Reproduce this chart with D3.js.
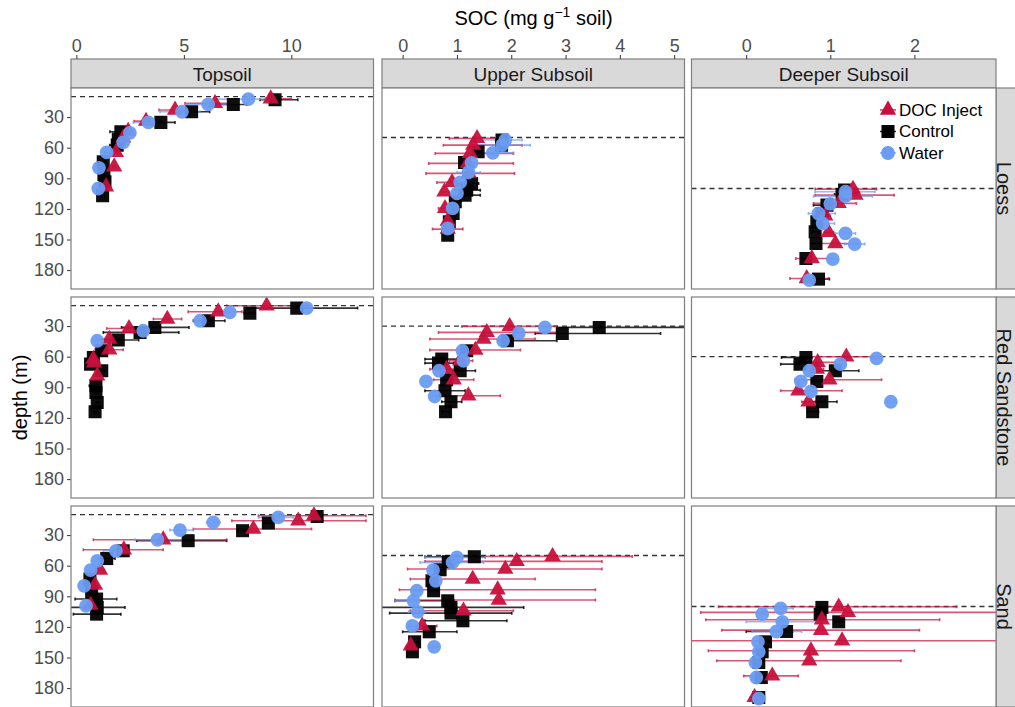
<!DOCTYPE html>
<html>
<head>
<meta charset="utf-8">
<script src="https://cdn.jsdelivr.net/npm/d3@7"></script>
<style>
  html, body { margin: 0; padding: 0; background: #fff; }
  svg { display: block; font-family: "Liberation Sans", Arial, sans-serif; }
</style>
</head>
<body>
<svg id="chart" width="1015" height="707"></svg>
<script>
// ---- Facets, treatments and axis ticks ----
const parentMaterials = ["Loess", "Red Sandstone", "Sand"];
const horizons = ["Topsoil", "Upper Subsoil", "Deeper Subsoil"];
const treatments = ["DOC Inject", "Control", "Water"];
const socTicksTopsoil = [0, 5, 10];
const socTicksUpper = [0, 1, 2, 3, 4, 5];
const socTicksDeeper = [0, 1, 2];
const depthTicks = [30, 60, 90, 120, 150, 180];
// injection depth per parent material (rows) and horizon (columns)
const injectionDepthLoess = [10, 50, 100];
const injectionDepthRedSandstone = [10, 30, 60];
const injectionDepthSand = [10, 50, 100];

// ---- Profiles: [depth (m), SOC, lower, upper] ----
// Loess
const loessTopDOC = [[12,9.04,8.8,10.0],[16.6,6.45,5.05,7.1],[23,4.59,3.84,5.36],[34,3.24,2.68,3.89],[43.7,2.41,2.3,2.55],[50.3,2.18,2.05,2.3],[64.6,1.84,1.75,1.95],[78.7,1.76,1.7,1.85],[98.3,1.38,1.3,1.45]];
const loessTopControl = [[13,9.24,8.54,10.3],[17.6,7.3,6.5,7.92],[24.8,5.36,4.66,6.2],[35.2,3.93,3.58,4.59],[44.4,2.07,1.56,2.34],[51.6,1.95,1.7,2.2],[57.5,1.9,1.55,2.0],[73.8,1.25,1.15,1.35],[86.2,1.28,1.2,1.35],[93.4,1.33,1.25,1.4],[107,1.22,1.15,1.3]];
const loessTopWater = [[12.4,8.0,6.5,9.2],[17.6,6.13,5.13,7.14],[24.8,4.91,3.89,5.75],[35.2,3.35,2.65,3.89],[45.4,2.49,2.4,2.6],[54.8,2.18,2.1,2.3],[64.6,1.41,1.35,1.5],[79.7,1.05,1.0,1.1],[100,1.02,0.95,1.1]];
const loessUpperDOC = [[50.9,1.37,0.86,1.92],[57.5,1.3,0.75,2.2],[65.6,1.24,0.6,2.04],[75.4,1.2,0.48,2.04],[85.2,1.22,0.43,2.06],[94,0.91,0.63,1.03],[103.2,0.77,0.7,0.85],[119.5,0.78,0.66,1.03],[132,0.83,0.8,0.86],[139.8,0.83,0.55,1.11]];
const loessUpperControl = [[52.5,1.83,1.75,1.9],[57.5,1.82,1.75,1.9],[64,1.39,1.3,1.45],[74.5,1.14,1.05,1.2],[95,1.27,1.03,1.4],[101.6,1.18,0.97,1.43],[106.5,1.15,1.05,1.43],[113,0.97,0.9,1.05],[124.5,0.93,0.85,1.0],[132.6,0.86,0.8,0.92],[145.7,0.83,0.78,0.9]];
const loessUpperWater = [[52.5,1.89,1.33,2.2],[57.5,1.83,1.33,2.35],[65,1.66,1.27,2.04],[74.8,1.27,1.2,1.35],[84.3,1.21,1.0,1.43],[94,1.06,1.0,1.12],[104.8,1.0,0.93,1.07],[119.5,0.92,0.85,1.0],[139.2,0.83,0.78,0.9]];
const loessDeeperDOC = [[100.6,1.27,0.82,1.55],[106.5,1.3,0.82,1.76],[114.6,1.1,0.8,1.31],[126.7,0.94,0.88,1.0],[143,0.98,0.93,1.04],[153.9,1.06,0.86,1.33],[168.6,0.78,0.59,1.02],[188.2,0.72,0.52,0.98]];
const loessDeeperControl = [[101.6,1.17,1.1,1.25],[105.8,1.14,1.05,1.22],[116.3,0.96,0.8,1.08],[124.5,0.9,0.85,0.95],[132.6,0.84,0.8,0.9],[142.4,0.82,0.78,0.86],[153.9,0.83,0.78,0.88],[168.6,0.71,0.66,0.76],[188.8,0.86,0.7,0.99]];
const loessDeeperWater = [[103.2,1.18,0.82,1.53],[107.5,1.18,0.8,1.5],[115,1.0,0.95,1.05],[124.5,0.86,0.74,1.06],[134.3,0.91,0.85,1.05],[144,1.18,1.06,1.3],[154.5,1.29,1.17,1.41],[169.2,1.03,0.98,1.08],[189.8,0.75,0.7,0.8]];
// Red Sandstone
const redTopDOC = [[10.1,8.85,7.0,10.7],[15.9,6.6,5.2,7.7],[23.1,4.23,3.58,4.9],[32.3,2.45,1.41,3.42],[42.8,1.53,0.95,2.0],[53.2,1.53,0.87,2.18],[62.4,0.79,0.7,0.9],[66,0.82,0.7,0.95],[78.7,0.97,0.8,1.15]];
const redTopControl = [[12.4,10.25,7.92,13.08],[17.3,8.07,7.8,8.3],[24.8,6.14,5.44,6.91],[31.3,3.65,2.1,5.24],[36.2,2.96,1.25,4.77],[43.7,1.95,1.25,2.9],[54.2,1.18,1.0,1.35],[60.7,0.79,0.7,0.9],[67.3,0.66,0.6,0.75],[73.8,1.18,1.05,1.3],[88.5,0.91,0.6,1.0],[95,0.91,0.85,1.0],[104.8,0.97,0.9,1.05],[114,0.87,0.8,0.95]];
const redTopWater = [[12.4,10.71,10.5,10.9],[16.6,7.14,7.0,7.3],[24.8,5.75,5.6,5.9],[34.6,3.11,2.9,3.3],[44.4,0.97,0.9,1.05]];
const redUpperDOC = [[30.3,1.97,1.09,2.84],[36.2,1.55,0.66,2.84],[42.7,1.49,0.5,2.44],[53.5,1.34,0.5,2.17],[64,1.06,0.86,1.29],[72.2,0.81,0.5,1.03],[82.6,0.94,0.57,1.31],[98.3,1.21,0.6,1.8]];
const redUpperControl = [[31.3,3.62,2.84,6.0],[37.3,2.94,2.44,4.75],[44.4,1.93,1.77,2.84],[54.2,1.18,1.1,1.25],[62.4,0.72,0.41,1.0],[66.3,0.66,0.41,0.94],[73.8,1.06,0.91,1.34],[82.6,0.81,0.75,0.9],[93.4,0.78,0.41,1.15],[104.2,0.89,0.72,1.09],[114,0.79,0.72,0.86]];
const redUpperWater = [[31.3,2.62,2.55,2.7],[36.9,2.14,2.05,2.2],[44.4,1.85,1.78,1.92],[54.2,1.1,1.05,1.15],[64,1.12,1.05,1.2],[73.8,0.67,0.6,0.75],[84.3,0.43,0.38,0.5],[99,0.59,0.52,0.65]];
const redDeeperDOC = [[60.1,1.19,0.72,1.59],[65.6,0.85,0.57,1.06],[72.1,0.84,0.76,0.92],[82.6,0.99,0.58,1.61],[93.4,0.62,0.41,1.14],[104.2,0.74,0.66,0.82]];
const redDeeperControl = [[60.7,0.71,0.42,0.78],[67.3,0.64,0.41,0.72],[73.8,1.06,0.86,1.34],[84.3,0.84,0.78,0.9],[104.2,0.9,0.7,1.08],[114,0.79,0.73,0.86]];
const redDeeperWater = [[61.7,1.55,1.5,1.6],[67.3,1.12,1.06,1.18],[73.8,0.75,0.69,0.81],[84.3,0.65,0.6,0.7],[94.1,0.77,0.71,0.83],[104.2,1.72,1.68,1.76]];
// Sand
const sandTopDOC = [[11,11.05,8.47,13.47],[16,10.32,7.23,13.47],[24.1,8.23,5.44,10.94],[34.6,4.04,0.79,6.99],[44.4,2.21,0.32,4.04],[64.3,1.1,0.9,1.3],[79,0.87,0.75,1.0],[98.6,0.66,0.55,0.8]];
const sandTopControl = [[11.7,11.2,11.0,11.4],[18.2,8.93,8.7,9.1],[25.7,7.73,7.5,7.9],[35.5,5.2,2.81,6.99],[45.4,2.18,2.0,2.35],[53,1.41,1.0,1.8],[73.1,0.63,0.55,0.7],[86.2,0.71,0.6,0.8],[92.7,0.94,-0.06,1.88],[100.9,0.97,-0.3,2.26],[107.5,0.94,-0.14,2.07]];
const sandTopWater = [[12.7,9.39,8.47,10.09],[17.6,6.37,6.06,6.68],[25.1,4.82,4.35,5.44],[34.6,3.77,2.73,5.13],[45.4,1.84,1.25,2.34],[55.2,0.97,0.9,1.05],[64.3,0.66,0.6,0.75],[79.7,0.36,0.3,0.45],[99.3,0.45,0.35,0.6]];
const sandUpperDOC = [[50.9,2.76,1.52,4.23],[55.8,2.1,0.41,3.67],[63.3,1.89,0.09,3.67],[73.1,1.29,0.14,2.44],[83.6,1.75,-0.06,3.55],[93.7,1.77,-0.14,3.55],[104.2,1.12,0.14,2.04],[119,0.36,0.11,0.63],[138.5,0.15,0.1,0.2]];
const sandUpperControl = [[51.2,1.32,0.41,1.52],[56.1,0.84,0.75,0.95],[64,0.69,0.6,0.78],[74.8,0.54,0.45,0.62],[84.6,0.57,0.5,0.65],[94.4,0.83,-0.14,0.95],[100.9,0.89,-0.4,2.23],[106.5,0.89,-0.24,2.01],[114,1.11,0.41,1.92],[124.8,0.49,-0.0,1.0],[134.6,0.22,0.15,0.3],[144.4,0.18,0.1,0.25]];
const sandUpperWater = [[51.9,1.0,0.41,1.52],[56.8,0.92,0.32,1.49],[64.3,0.56,0.5,0.62],[74.8,0.61,0.55,0.68],[84.6,0.26,0.2,0.32],[94.4,0.2,-0.14,0.3],[105.2,0.28,0.11,0.42],[119,0.18,0.12,0.24],[139.5,0.58,0.5,0.66]];
const sandDeeperDOC = [[100.3,1.1,-0.33,2.5],[105.8,1.21,-0.54,3.2],[113,0.9,-0.48,2.3],[123.2,0.89,-0.29,2.06],[133.6,1.14,-0.8,3.2],[143.4,0.77,-0.45,2.0],[153.2,0.75,-0.35,1.84],[168,0.31,-0.03,0.62],[189.1,0.1,0.05,0.15]];
const sandDeeperControl = [[100.9,0.9,0.85,0.95],[107.5,0.88,0.83,0.93],[115,1.1,1.05,1.15],[124.5,0.48,0.0,0.55],[134.6,0.23,0.18,0.28],[144.4,0.19,0.14,0.24],[154.9,0.15,0.1,0.2],[169.6,0.18,0.13,0.23],[189.2,0.15,0.1,0.2]];
const sandDeeperWater = [[101.9,0.41,0.15,0.56],[107.5,0.19,0.13,0.25],[115,0.43,-0.0,0.86],[124.5,0.36,0.07,0.66],[134.6,0.14,0.09,0.19],[144.4,0.15,0.1,0.2],[154.9,0.11,0.06,0.16],[169.6,0.12,0.07,0.17],[190.2,0.15,0.1,0.2]];

// ---- Assemble facets ----
const socTicks = [socTicksTopsoil, socTicksUpper, socTicksDeeper];
const socDomains = [[-0.25, 13.82], [-0.38, 5.19], [-0.65, 2.97]];
const depthDomain = [1.5, 198.5];
const injectionDepths = [injectionDepthLoess, injectionDepthRedSandstone, injectionDepthSand];
const profiles = [
  [[loessTopDOC, loessTopControl, loessTopWater], [loessUpperDOC, loessUpperControl, loessUpperWater], [loessDeeperDOC, loessDeeperControl, loessDeeperWater]],
  [[redTopDOC, redTopControl, redTopWater], [redUpperDOC, redUpperControl, redUpperWater], [redDeeperDOC, redDeeperControl, redDeeperWater]],
  [[sandTopDOC, sandTopControl, sandTopWater], [sandUpperDOC, sandUpperControl, sandUpperWater], [sandDeeperDOC, sandDeeperControl, sandDeeperWater]]
];

// ---- Layout ----
const colBounds = [[71, 373.5], [382, 684.5], [691.5, 996]];
const rowBounds = [[88, 289], [297, 498], [506, 707]];
const stripTop = 59, stripBottom = 88;
const colours = { "DOC Inject": "#C8103C", "Control": "#000000", "Water": "#6A9CF2" };
const symbols = { "DOC Inject": d3.symbolTriangle, "Control": d3.symbolSquare, "Water": d3.symbolCircle };
const symbolSizes = { "DOC Inject": 115, "Control": 170, "Water": 150 };
const drawOrder = [1, 0, 2];

const svg = d3.select("#chart");
const borderCol = "#7f7f7f";
const tickTextCol = "#4d4d4d";

// axis title on top
const title = svg.append("text")
  .attr("x", (colBounds[0][0] + colBounds[2][1]) / 2).attr("y", 25)
  .attr("text-anchor", "middle").attr("font-size", 20).attr("fill", "#000");
title.append("tspan").text("SOC (mg g");
title.append("tspan").attr("dy", -8).attr("font-size", 14).text("\u22121");
title.append("tspan").attr("dy", 8).text(" soil)");

// y axis title
svg.append("text")
  .attr("transform", `translate(27,${(rowBounds[0][0] + rowBounds[2][1]) / 2}) rotate(-90)`)
  .attr("text-anchor", "middle").attr("font-size", 20).attr("fill", "#000")
  .text("depth (m)");

const defs = svg.append("defs");

horizons.forEach((h, c) => {
  const [x0, x1] = colBounds[c];
  const x = d3.scaleLinear().domain(socDomains[c]).range([x0, x1]);

  // top strip
  svg.append("rect").attr("x", x0).attr("y", stripTop).attr("width", x1 - x0).attr("height", stripBottom - stripTop)
    .attr("fill", "#d9d9d9").attr("stroke", borderCol).attr("stroke-width", 1.2);
  svg.append("text").attr("x", (x0 + x1) / 2).attr("y", (stripTop + stripBottom) / 2 + 1)
    .attr("text-anchor", "middle").attr("dominant-baseline", "central")
    .attr("font-size", 19).attr("fill", "#1a1a1a").text(h);

  // top axis
  const ax = svg.append("g").attr("transform", `translate(0,${stripTop})`)
    .call(d3.axisTop(x).tickValues(socTicks[c]).tickSize(4).tickPadding(3).tickFormat(d3.format("d")));
  ax.select(".domain").remove();
  ax.selectAll(".tick line").attr("stroke", "#333").attr("stroke-width", 1);
  ax.selectAll(".tick text").attr("font-size", 18).attr("fill", tickTextCol).attr("font-family", null);
});

parentMaterials.forEach((pm, r) => {
  const [y0, y1] = rowBounds[r];
  const y = d3.scaleLinear().domain(depthDomain).range([y0, y1]);

  // right strip
  svg.append("rect").attr("x", 996).attr("y", y0).attr("width", 26).attr("height", y1 - y0)
    .attr("fill", "#d9d9d9").attr("stroke", borderCol).attr("stroke-width", 1.2);
  svg.append("text").attr("transform", `translate(1004,${(y0 + y1) / 2}) rotate(90)`)
    .attr("text-anchor", "middle").attr("dominant-baseline", "central")
    .attr("font-size", 20).attr("fill", "#1a1a1a").text(pm);

  // left axis
  const ay = svg.append("g").attr("transform", `translate(${colBounds[0][0]},0)`)
    .call(d3.axisLeft(y).tickValues(depthTicks).tickSize(4).tickPadding(3));
  ay.select(".domain").remove();
  ay.selectAll(".tick line").attr("stroke", "#333");
  ay.selectAll(".tick text").attr("font-size", 18).attr("fill", tickTextCol).attr("font-family", null);

  horizons.forEach((h, c) => {
    const [x0, x1] = colBounds[c];
    const x = d3.scaleLinear().domain(socDomains[c]).range([x0, x1]);
    const clipId = `clip-${r}-${c}`;
    defs.append("clipPath").attr("id", clipId)
      .append("rect").attr("x", x0).attr("y", y0).attr("width", x1 - x0).attr("height", y1 - y0);

    svg.append("rect").attr("x", x0).attr("y", y0).attr("width", x1 - x0).attr("height", y1 - y0).attr("fill", "#fff");
    const g = svg.append("g").attr("clip-path", `url(#${clipId})`);

    // injection depth
    const dy = y(injectionDepths[r][c]);
    g.append("line").attr("x1", x0).attr("x2", x1).attr("y1", dy).attr("y2", dy)
      .attr("stroke", "#333").attr("stroke-width", 1.3).attr("stroke-dasharray", "5,4");

    drawOrder.forEach(t => {
      const name = treatments[t];
      const data = profiles[r][c][t];
      const col = colours[name];
      const bars = g.append("g").attr("stroke", col).attr("stroke-opacity", name === "Control" ? 0.8 : 0.7).attr("stroke-width", 1.6);
      data.forEach(d => {
        if (d[3] <= d[2]) return;
        const yy = y(d[0]);
        bars.append("line").attr("x1", x(d[2])).attr("x2", x(d[3])).attr("y1", yy).attr("y2", yy);
        bars.append("line").attr("x1", x(d[2])).attr("x2", x(d[2])).attr("y1", yy - 1.5).attr("y2", yy + 1.5);
        bars.append("line").attr("x1", x(d[3])).attr("x2", x(d[3])).attr("y1", yy - 1.5).attr("y2", yy + 1.5);
      });
    });
    drawOrder.forEach(t => {
      const name = treatments[t];
      const data = profiles[r][c][t];
      g.append("g").selectAll("path").data(data).join("path")
        .attr("transform", d => `translate(${x(d[1])},${y(d[0])})`)
        .attr("d", d3.symbol(symbols[name], symbolSizes[name]))
        .attr("fill", colours[name]).attr("fill-opacity", 0.95);
    });

    svg.append("rect").attr("x", x0).attr("y", y0).attr("width", x1 - x0).attr("height", y1 - y0)
      .attr("fill", "none").attr("stroke", borderCol).attr("stroke-width", 1.2);
  });
});

// legend inside the top-right panel
const legend = svg.append("g").attr("transform", "translate(888,110)");
treatments.forEach((name, i) => {
  const row = legend.append("g").attr("transform", `translate(0,${i * 21.5})`);
  row.append("line").attr("x1", -8).attr("x2", 8).attr("stroke", colours[name]).attr("stroke-width", 1.6)
    .attr("stroke-opacity", 0.8);
  row.append("path").attr("d", d3.symbol(symbols[name], symbolSizes[name])).attr("fill", colours[name]);
  row.append("text").attr("x", 11).attr("dominant-baseline", "central")
    .attr("font-size", 17).attr("fill", "#000").text(name);
});
</script>
</body>
</html>
